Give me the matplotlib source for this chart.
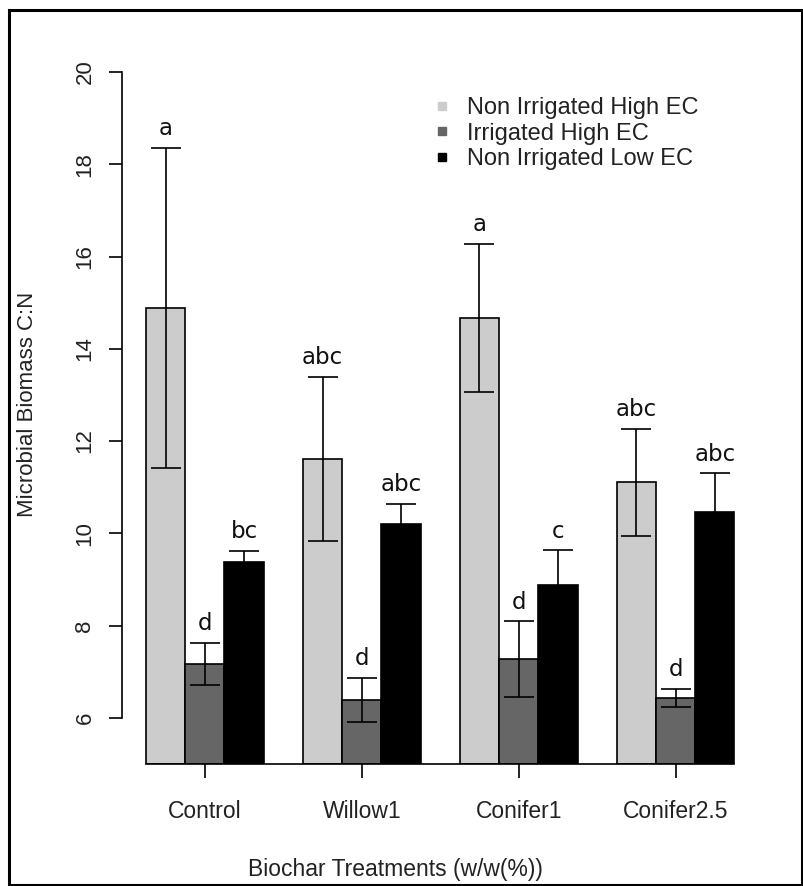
import matplotlib
matplotlib.use("Agg")
import matplotlib.pyplot as plt
from matplotlib.lines import Line2D
from matplotlib.patches import Rectangle
import numpy as np

treatments = ['Control', 'Willow1', 'Conifer1', 'Conifer2.5']
series = ['Non Irrigated High EC', 'Irrigated High EC', 'Non Irrigated Low EC']
colors = ['#cccccc', '#666666', '#000000']

non_irr_high = [14.88, 11.61, 14.67, 11.11]
irr_high = [7.17, 6.39, 7.27, 6.43]
non_irr_low = [9.37, 10.20, 8.89, 10.46]

non_irr_high_se = [3.47, 1.78, 1.61, 1.16]
irr_high_se = [0.45, 0.47, 0.82, 0.20]
non_irr_low_se = [0.24, 0.43, 0.74, 0.84]

letters = [['a', 'abc', 'a', 'abc'],
           ['d', 'd', 'd', 'd'],
           ['bc', 'abc', 'c', 'abc']]

means = [non_irr_high, irr_high, non_irr_low]
ses = [non_irr_high_se, irr_high_se, non_irr_low_se]

base = 5
W, H = 804, 886
fig = plt.figure(figsize=(W/100, H/100), dpi=100)
# axes placed in pixel terms (R style plot region)
ax = fig.add_axes([122.5/W, 122/H, (758-122.5)/W, (764-44.3)/H])
ax.set_xlim(0.4, 16.6)
ax.set_ylim(base, 20.6)

sans = 'Liberation Sans'
for j in range(3):
    x = 1.5 + np.arange(4)*4 + j
    ax.bar(x, np.array(means[j]) - base, bottom=base, width=1.0,
           color=colors[j], edgecolor='black', linewidth=1.2, zorder=2)
    ax.errorbar(x, means[j], yerr=ses[j], fmt='none', ecolor='black',
                elinewidth=1.2, capsize=11, capthick=1.2, zorder=3)
    for i in range(4):
        ax.text(x[i], means[j][i] + ses[j][i] + 0.17, letters[j][i],
                ha='center', va='bottom', fontsize=16.5,
                family='DejaVu Sans', color='#111111', zorder=4)

for s in ['top', 'right']:
    ax.spines[s].set_visible(False)
ax.spines['left'].set_bounds(6, 20)
ax.spines['bottom'].set_bounds(1, 16)
ax.spines['left'].set_linewidth(1.2)
ax.spines['bottom'].set_linewidth(1.2)

ax.set_yticks(np.arange(6, 21, 2))
ax.set_yticklabels([str(v) for v in range(6, 21, 2)], rotation=90,
                   va='center', fontsize=16, family=sans, color='#222222')
ax.set_xticks(2.5 + np.arange(4)*4)
ax.set_xticklabels(treatments, fontsize=16.5, family=sans, color='#222222')
ax.tick_params(axis='y', length=9.5, width=1.2, pad=10)
ax.tick_params(axis='x', length=10, width=1.2, pad=16)

ax.set_ylabel('Microbial Biomass C:N', fontsize=16, family=sans,
              color='#222222', labelpad=26)
ax.set_xlabel('Biochar Treatments (w/w(%))', fontsize=16.5, family=sans,
              color='#222222', labelpad=24)
ax.xaxis.set_label_coords(0.43, -0.13)

handles = [Line2D([0], [0], marker='s', linestyle='none', markersize=6,
                  markerfacecolor=c, markeredgecolor=c) for c in colors]
leg = ax.legend(handles, series, loc='upper left',
                bbox_to_anchor=(423/W, 1 - 85/H), bbox_transform=fig.transFigure,
                frameon=False, handlelength=0.6, handletextpad=0.75,
                labelspacing=0.16, borderpad=0, prop={'family': sans, 'size': 17})
for t in leg.get_texts():
    t.set_color('#222222')

fig.patches.append(Rectangle((9/W, 1/H), 793/W, 875/H, transform=fig.transFigure,
                             fill=False, edgecolor='black', linewidth=2.2))

fig.savefig('out.png', dpi=100)
